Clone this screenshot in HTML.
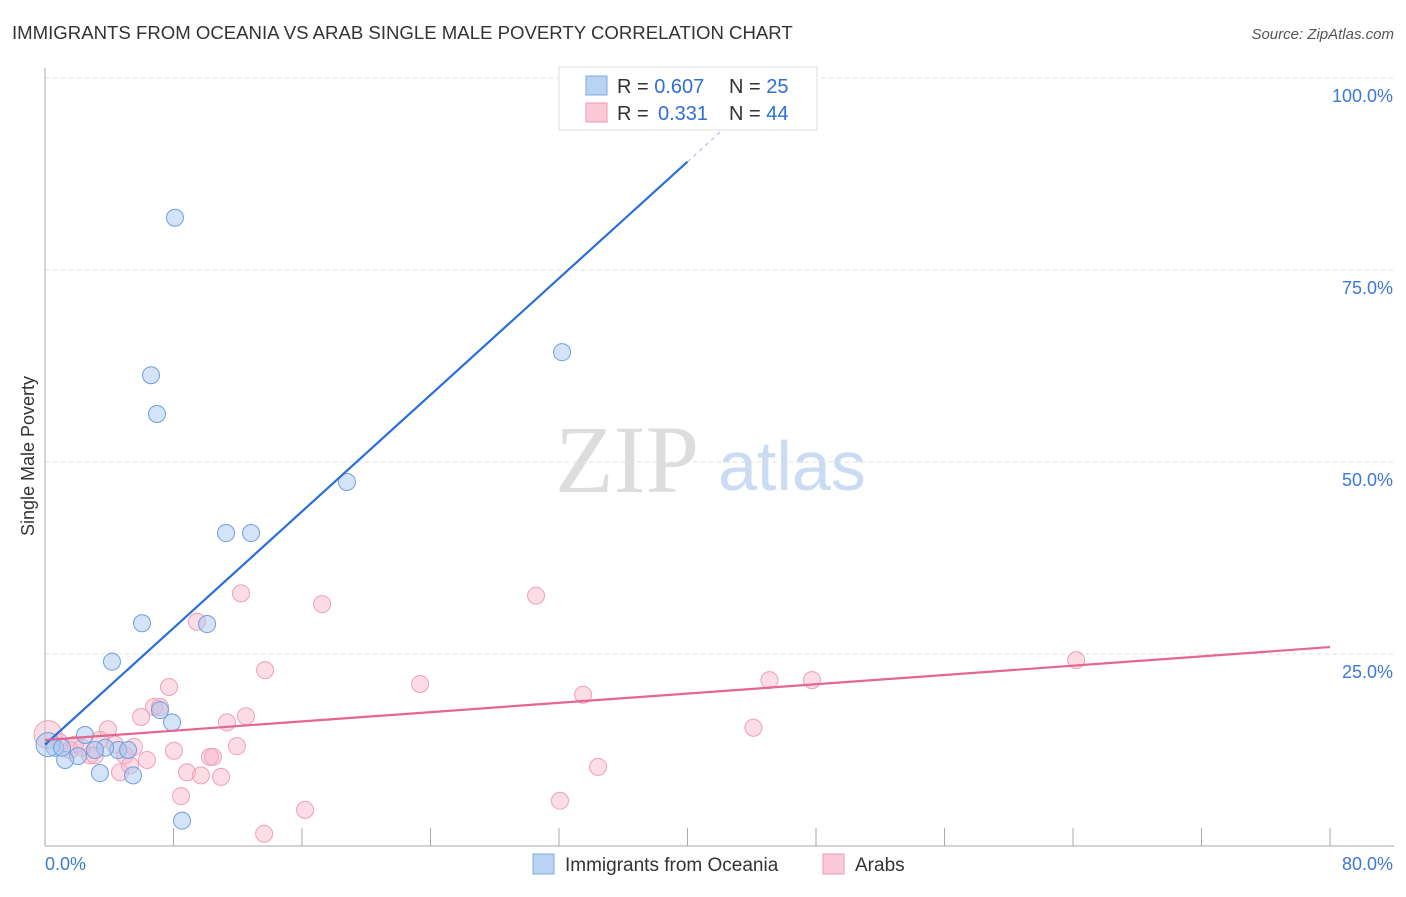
<!DOCTYPE html>
<html><head><meta charset="utf-8"><style>
body{margin:0;background:#fff;font-family:"Liberation Sans",sans-serif;}
</style></head><body>
<svg id="chart" width="1406" height="892" xmlns="http://www.w3.org/2000/svg" style="font-family:'Liberation Sans',sans-serif">
<text x="12" y="39" font-size="18.6" fill="#333">IMMIGRANTS FROM OCEANIA VS ARAB SINGLE MALE POVERTY CORRELATION CHART</text>
<text x="1394" y="39" font-size="15" fill="#555" text-anchor="end" font-style="italic">Source: ZipAtlas.com</text>
<text transform="translate(34,456) rotate(-90)" font-size="18" fill="#333" text-anchor="middle">Single Male Poverty</text>
<text x="555" y="492" font-size="96" fill="#ddd" font-family="Liberation Serif,serif">ZIP</text>
<text x="718" y="490" font-size="70" fill="#c9dcf3">atlas</text>
<g id="grid"></g><g id="pts"></g><g id="lines"></g>
<g>
<rect x="559" y="67" width="258" height="63" fill="#fff" stroke="#ddd"/>
<rect x="586" y="76" width="21" height="19" fill="#b9d3f3" stroke="#7fa8e0"/>
<rect x="586" y="103" width="21" height="19" fill="#fbc9d8" stroke="#ee9ab4"/>
<text x="617" y="93" font-size="20" fill="#333">R = <tspan fill="#2f6fd6">0.607</tspan><tspan x="729">N = </tspan><tspan fill="#2f6fd6">25</tspan></text>
<text x="617" y="120" font-size="20" fill="#333">R = <tspan x="658" fill="#2f6fd6">0.331</tspan><tspan x="729">N = </tspan><tspan fill="#2f6fd6">44</tspan></text>
</g>
<g>
<rect x="533" y="854" width="21" height="20" fill="#b9d3f3" stroke="#7fa8e0"/>
<text x="565" y="871" font-size="19" fill="#333">Immigrants from Oceania</text>
<rect x="823" y="854" width="21" height="20" fill="#fbc9d8" stroke="#ee9ab4"/>
<text x="855" y="871" font-size="19" fill="#333">Arabs</text>
</g>
</svg>
<script>
const yTicks=[25,50,75,100];
const yTickLabels=["25.0%","50.0%","75.0%","100.0%"];
const blueX=[8.09,6.6,6.97,11.27,12.83,18.8,32.19,6.04,10.09,4.17,7.91,7.16,2.49,2.05,1.25,3.42,5.48,0.62,4.55,5.17,8.53,0.19,1.06,3.74,3.11];
const blueY=[81.8,61.3,56.25,40.75,40.75,47.4,64.3,29.0,28.9,24.0,16.1,17.7,14.45,11.7,11.2,9.5,9.2,12.8,12.5,12.5,3.3,13.2,12.8,12.8,12.5];
const pinkX=[12.2,17.25,30.57,9.46,13.7,23.35,33.5,45.1,47.75,64.2,44.1,7.72,6.79,5.98,3.92,12.51,11.33,8.03,11.95,5.54,6.35,8.84,9.71,10.96,10.27,10.46,8.47,34.43,32.06,16.19,13.64,4.67,4.98,3.42,2.8,1.87,0.93,0.19,1.56,3.11,5.29,4.36,2.3,7.16];
const pinkY=[32.9,31.5,32.6,29.2,22.9,21.1,19.7,21.6,21.6,24.2,15.4,20.7,18.1,16.8,15.2,16.9,16.1,12.4,13.0,12.9,11.2,9.6,9.2,9.0,11.6,11.6,6.5,10.3,5.9,4.7,1.6,9.6,11.8,13.8,11.8,13.2,13.5,14.5,12.5,11.8,10.5,13.2,12.8,18.1];
const blueLine=[13.2,89.1];const pinkLine=[13.8,25.9];
const NS="http://www.w3.org/2000/svg";
const sx=v=>45+v/80*1285, sy=v=>846-v*7.68;
function mk(tag,attrs,parent){const e=document.createElementNS(NS,tag);for(const k in attrs)e.setAttribute(k,attrs[k]);document.getElementById(parent).appendChild(e);return e;}
yTicks.forEach((t,i)=>{
 const l=mk('line',{x1:45,x2:1394,y1:sy(t),y2:sy(t),stroke:'#ddd','stroke-dasharray':'4,4'},'grid');
 
 
 const tx=mk('text',{x:1393,y:sy(t)+24,'font-size':18,fill:'#3d78d8','text-anchor':'end'},'grid');
 tx.textContent=yTickLabels[i];
 
 
});
const ax=mk('line',{x1:45,x2:45,y1:68,y2:846,stroke:'#aaa'},'grid');


const bx=mk('line',{x1:45,x2:1394,y1:846,y2:846,stroke:'#aaa'},'grid');


for(let i=1;i<=10;i++){const t=mk('line',{x1:sx(i*8),x2:sx(i*8),y1:828,y2:846,stroke:'#aaa'},'grid');
 
 }
[["0.0%",45,'start'],["80.0%",1393,'end']].forEach(a=>{const t=mk('text',{x:a[1],y:870,'font-size':18,fill:'#3d78d8','text-anchor':a[2]},'grid');t.textContent=a[0];
 
 });
pinkX.forEach((x,i)=>{const c=mk('circle',{cx:sx(x),cy:sy(pinkY[i]),r:i==37?14:8.5,fill:'rgba(248,180,200,0.45)',stroke:'#eea0b8','stroke-width':1},'pts');
 
 });
blueX.forEach((x,i)=>{const c=mk('circle',{cx:sx(x),cy:sy(blueY[i]),r:i==21?12:8.5,fill:'rgba(170,200,240,0.5)',stroke:'#6f9fe0','stroke-width':1},'pts');
 
 });
const bl=mk('line',{x1:sx(0),y1:sy(blueLine[0]),x2:sx(40),y2:sy(blueLine[1]),stroke:'#2a6fd8','stroke-width':2.2},'lines');


const slope=(blueLine[1]-blueLine[0])/40;
const bd=mk('line',{x1:sx(40),y1:sy(blueLine[1]),x2:sx(45),y2:sy(blueLine[0]+slope*45),stroke:'#9bb8e6','stroke-width':1,'stroke-dasharray':'4,4'},'lines');


const pl=mk('line',{x1:sx(0),y1:sy(pinkLine[0]),x2:sx(80),y2:sy(pinkLine[1]),stroke:'#e5668f','stroke-width':2.2},'lines');


</script>
</body></html>
